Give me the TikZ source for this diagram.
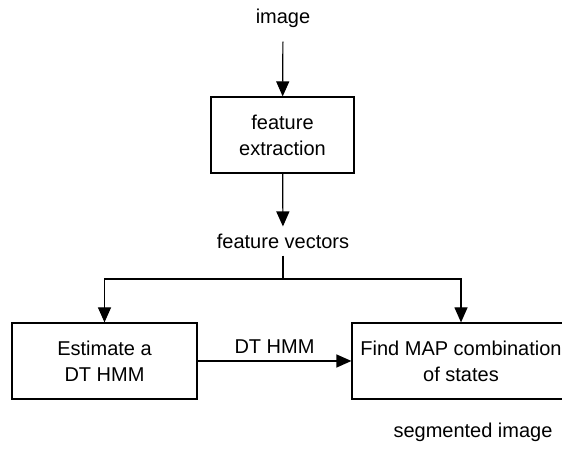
\documentclass[tikz,border=0pt]{standalone}
\usepackage{fontspec}
\setmainfont{Liberation Sans}
\usetikzlibrary{arrows.meta}

\begin{document}
\begin{tikzpicture}[x=0.5pt, y=-0.5pt, font=\fontsize{10}{13}\selectfont, line width=0.6pt, >={Triangle[length=7.5pt,width=6.5pt]}]
    % Node styles
    \tikzstyle{proc box}=[draw, align=center, minimum height=38pt, inner sep=2pt]
    \tikzstyle{data label}=[inner sep=3.3pt]

    % Page frame (right box runs off the edge)
    \useasboundingbox (0,0) rectangle (562,453);
    \clip (0,0) rectangle (562,453);

    % --- Top: input and feature extraction ---
    \node[data label] (image) at (283,18) {image};
    \node[proc box, minimum width=71.5pt] (extract) at (282.5,135) {feature\\extraction};
    \node[data label] (vectors) at (283,241) {feature vectors};

    % --- Bottom: the two stages ---
    \node[proc box, minimum width=92.5pt] (estimate) at (104.5,361) {Estimate a\\DT HMM};
    \node[proc box, minimum width=109pt] (findmap) at (461,361) {Find MAP combination\\of states};
    \node[data label] (segmented) at (473,432) {segmented image};

    % Split point below the feature vectors
    \coordinate (split) at (283,279);

    % Edges
    \draw[->, shorten <=3.5pt] (image) -- (extract);
    \draw[->] (extract) -- (vectors);
    \draw (vectors) -- (split);
    \draw[->] (split) -| (estimate);
    \draw[->] (split) -| (findmap);
    \draw[->] (estimate) -- node[above] {DT HMM} (findmap);

\end{tikzpicture}
\end{document}
